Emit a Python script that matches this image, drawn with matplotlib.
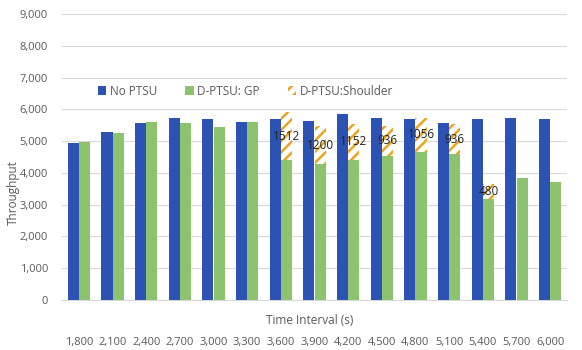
import matplotlib.pyplot as plt
import numpy as np

plt.rcParams['font.family'] = ['Open Sans', 'DejaVu Sans']
plt.rcParams['hatch.linewidth'] = 1.8

intervals = ['1,800', '2,100', '2,400', '2,700', '3,000', '3,300', '3,600', '3,900',
             '4,200', '4,500', '4,800', '5,100', '5,400', '5,700', '6,000']
no_ptsu = [4950, 5300, 5580, 5720, 5690, 5610, 5690, 5640, 5840, 5720, 5690, 5560, 5690, 5720, 5690]
gp = [4970, 5260, 5610, 5580, 5450, 5610, 4400, 4270, 4400, 4540, 4670, 4590, 3170, 3850, 3700]
shoulder = [0, 0, 0, 0, 0, 0, 1512, 1200, 1152, 936, 1056, 936, 480, 0, 0]

BLUE = '#2C52B4'
GREEN = '#8DC26F'
ORANGE = '#EFA31A'
GRAY = '#595959'

fig = plt.figure(figsize=(5.82, 3.5), dpi=100)
ax = fig.add_axes([62/582, 50/350, 505/582, 286/350])

x = np.arange(len(intervals))
w = 0.335
ax.bar(x - w/2, no_ptsu, w, color=BLUE, label='No PTSU', zorder=3)
ax.bar(x + w/2, gp, w, color=GREEN, label='D-PTSU: GP', zorder=3)
ax.bar(x + w/2, shoulder, w, bottom=gp, color='white', edgecolor=ORANGE,
       hatch='///', linewidth=0, label='D-PTSU:Shoulder', zorder=3)

for xi, g, s in zip(x, gp, shoulder):
    if s:
        ax.text(xi + w/2, g + s/2, str(s), ha='center', va='center',
                fontsize=8.5, color='#222222', zorder=4)

ax.set_ylim(0, 9000)
ax.set_xlim(-0.5, len(intervals) - 0.5)
ax.set_yticks(np.arange(0, 9001, 1000))
ax.set_yticklabels([f'{v:,}' for v in range(0, 9001, 1000)])
ax.set_xticks(x)
ax.set_xticklabels(intervals)
ax.tick_params(axis='both', length=0, colors=GRAY, labelsize=8)
ax.tick_params(axis='x', pad=27)
ax.tick_params(axis='y', pad=10)
ax.yaxis.grid(True, color='#D9D9D9', linewidth=0.8, zorder=0)
for s in ['top', 'right', 'left']:
    ax.spines[s].set_visible(False)
ax.spines['bottom'].set_color('#D9D9D9')

ax.text(0.49, -0.07, 'Time Interval (s)', transform=ax.transAxes,
        ha='center', va='center', fontsize=8.5, color=GRAY)
fig.text(13/582, 157/350, 'Throughput', rotation=90, ha='center', va='center',
         fontsize=8.5, color=GRAY)

ax.legend(loc='upper left', bbox_to_anchor=(0.05, 0.79), ncol=3, frameon=False,
          fontsize=8.5, labelcolor=GRAY, handlelength=0.7, handleheight=0.7,
          handletextpad=0.3, columnspacing=2.4)

fig.savefig('out.png', dpi=100)
